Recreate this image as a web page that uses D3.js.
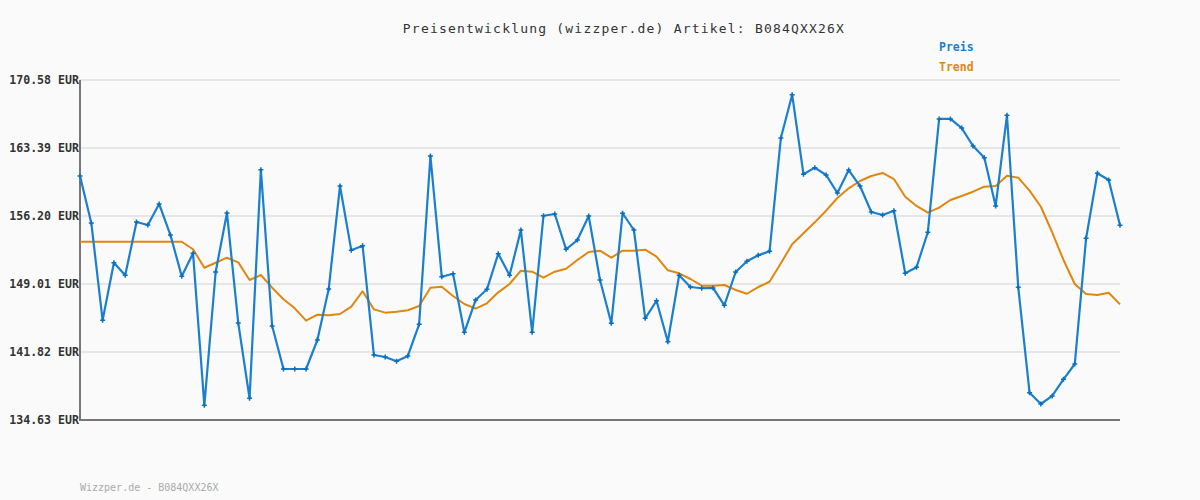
<!DOCTYPE html>
<html><head><meta charset="utf-8">
<script src="https://cdn.jsdelivr.net/npm/d3@7"></script>
<style>body{margin:0;background:#fafafa;}svg{display:block;}</style>
</head><body>
<svg id="c" width="1200" height="500"></svg>
<script>
const title = "Preisentwicklung (wizzper.de) Artikel: B084QXX26X";
const footer = "Wizzper.de - B084QXX26X";
const seriesNames = ["Preis", "Trend"];
const tickValues = [134.63, 141.82, 149.01, 156.20, 163.39, 170.58];
const tickLabels = ["134.63 EUR", "141.82 EUR", "149.01 EUR", "156.20 EUR", "163.39 EUR", "170.58 EUR"];
const preis = [160.43,155.46,145.17,151.26,149.93,155.57,155.25,157.47,154.19,149.82,
152.26,136.18,150.28,156.52,144.89,136.92,161.10,144.57,140.02,140.02,
140.02,143.09,148.48,159.37,152.57,153.06,141.50,141.29,140.84,141.40,
144.75,162.54,149.78,150.10,143.90,147.32,148.45,152.21,149.93,154.72,
143.90,156.23,156.41,152.68,153.66,156.20,149.43,144.85,156.49,154.72,
145.38,147.24,142.91,149.93,148.69,148.56,148.59,146.76,150.28,151.41,
152.04,152.47,164.45,169.03,160.61,161.31,160.54,158.63,161.06,159.37,
156.62,156.31,156.76,150.14,150.78,154.48,166.46,166.46,165.50,163.60,
162.36,157.26,166.85,148.66,137.52,136.32,137.17,138.93,140.55,153.84,
160.72,160.01,155.22];
const trend = [153.48,153.48,153.48,153.48,153.48,153.48,153.48,153.48,153.48,153.48,
152.68,150.73,151.26,151.79,151.30,149.43,149.96,148.62,147.39,146.44,
145.13,145.76,145.70,145.84,146.61,148.24,146.33,145.98,146.08,146.23,
146.68,148.62,148.72,147.74,146.90,146.40,146.97,148.13,149.01,150.42,
150.31,149.68,150.31,150.63,151.55,152.39,152.53,151.79,152.53,152.53,
152.64,151.90,150.46,150.14,149.54,148.83,148.83,148.90,148.38,147.98,
148.69,149.25,151.20,153.21,154.37,155.53,156.76,158.10,159.13,159.90,
160.43,160.75,160.11,158.24,157.26,156.55,157.08,157.89,158.31,158.77,
159.30,159.37,160.46,160.25,158.88,157.18,154.48,151.55,149.01,147.95,
147.85,148.09,146.86];

const blue = "#1a7fce", orange = "#e0870f";
const svg = d3.select("#c");
const L = 80, R = 1120, T = 80, B = 420;
const x = d3.scaleLinear().domain([0, preis.length - 1]).range([L, R]);
const y = d3.scaleLinear().domain([134.63, 170.58]).range([B, T]);
const mono = "'DejaVu Sans Mono', 'Liberation Mono', monospace";

svg.append("rect").attr("width",1200).attr("height",500).attr("fill","#fafafa");

// title
svg.append("text").attr("x", 624).attr("y", 33).attr("text-anchor","middle")
  .attr("font-family", mono).attr("font-size", 13).attr("letter-spacing", 1.2)
  .attr("fill","#333").text(title);

// legend
[[seriesNames[0], blue, 51], [seriesNames[1], orange, 71]].forEach(([t,c,yy]) => {
  svg.append("text").attr("x", 939).attr("y", yy).attr("font-family", mono)
    .attr("font-size", 11.5).attr("font-weight","bold").attr("fill", c).text(t);
});

// gridlines
svg.append("g").selectAll("line").data(tickValues).join("line")
  .attr("x1", L).attr("x2", R).attr("y1", d => y(d)).attr("y2", d => y(d))
  .attr("stroke", "#e6e6e6").attr("stroke-width", 2);

// y axis
const yAxis = d3.axisLeft(y).tickValues(tickValues).tickSize(0).tickPadding(1)
  .tickFormat((d,i) => tickLabels[i]);
const ga = svg.append("g").attr("transform", `translate(${L},0)`).call(yAxis);
ga.select(".domain").remove();
ga.selectAll("text").attr("font-family", mono).attr("font-size", 11.6)
  .attr("font-weight","bold").attr("fill","#333").attr("dy","0.32em");

svg.append("line").attr("x1", L).attr("x2", L).attr("y1", T).attr("y2", B+1)
  .attr("stroke","#777").attr("stroke-width",2);
svg.append("line").attr("x1", L-1).attr("x2", R).attr("y1", B).attr("y2", B)
  .attr("stroke","#777").attr("stroke-width",2);

// trend line
const line = d3.line().x((d,i) => x(i)).y(d => y(d));
svg.append("path").datum(trend).attr("d", line).attr("fill","none")
  .attr("stroke", orange).attr("stroke-width", 2).attr("stroke-linejoin","round");

// price line
svg.append("path").datum(preis).attr("d", line).attr("fill","none")
  .attr("stroke", blue).attr("stroke-width", 2.2).attr("stroke-linejoin","round");

// markers
svg.append("g").selectAll("path").data(preis).join("path")
  .attr("d", (d,i) => { const cx = x(i), cy = y(d);
    return `M${cx-2.5},${cy}H${cx+2.5}M${cx},${cy-2.5}V${cy+2.5}`; })
  .attr("stroke", "#0a6fc0").attr("stroke-width", 1.5);

// footer
svg.append("text").attr("x", 80).attr("y", 491).attr("font-family", mono)
  .attr("font-size", 10).attr("fill","#aaa").text(footer);
</script>
</body></html>
